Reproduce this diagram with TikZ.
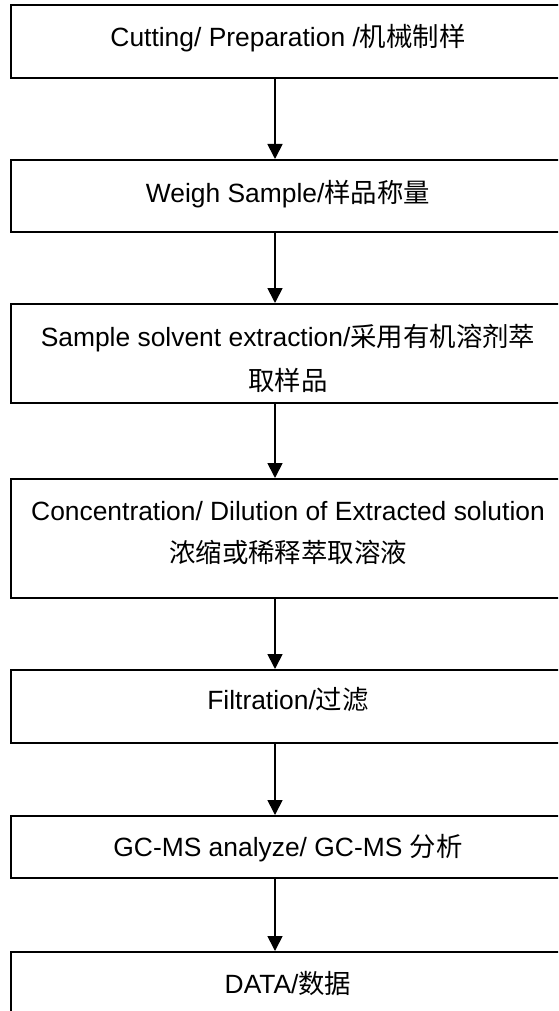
\documentclass[tikz,border=0pt]{standalone}
\usepackage{fontspec}
\setmainfont{Liberation Sans}
\newfontfamily\cjk{Noto Sans CJK SC}
\usetikzlibrary{arrows.meta}
\begin{document}
\begin{tikzpicture}[x=1pt,y=-1pt,
  box/.style={draw=black, line width=2pt, minimum width=554pt, inner sep=0pt},
  txt/.style={anchor=base, inner sep=0pt, font=\fontsize{26.4}{30}\selectfont},
  arr/.style={line width=1.7pt, -{Triangle[length=15pt,width=15pt]}}]
\clip (0,0) rectangle (558,1011);
\fill[white] (0,0) rectangle (558,1011);
% boxes
\node[box, minimum height=73pt] (b1) at (288,41.5) {};
\node[box, minimum height=72pt] (b2) at (288,196) {};
\node[box, minimum height=99pt] (b3) at (288,353.5) {};
\node[box, minimum height=119pt] (b4) at (288,538.5) {};
\node[box, minimum height=73pt] (b5) at (288,706.5) {};
\node[box, minimum height=62pt] (b6) at (288,847) {};
\node[box, minimum height=73pt] (b7) at (288,988.5) {};
% texts
\node[txt] (t1) at (288,47) {Cutting/ Preparation /{\cjk 机械制样}};
\node[txt] (t2) at (288,202) {Weigh Sample/{\cjk 样品称量}};
\node[txt] (t3a) at (288,346) {Sample solvent extraction/{\cjk 采用有机溶剂萃}};
\node[txt] (t3b) at (288,390) {{\cjk 取样品}};
\node[txt] (t4a) at (288,520) {Concentration/ Dilution of Extracted solution};
\node[txt] (t4b) at (288,562) {{\cjk 浓缩或稀释萃取溶液}};
\node[txt] (t5) at (288,709.5) {Filtration/{\cjk 过滤}};
\node[txt] (t6) at (288,856) {GC-MS analyze/ GC-MS {\cjk 分析}};
\node[txt] (t7) at (288,993) {DATA/{\cjk 数据}};
% arrows
\coordinate (ax) at (275,0);
\draw[arr] (b1.south -| ax) -- (b2.north -| ax);
\draw[arr] (b2.south -| ax) -- (b3.north -| ax);
\draw[arr] (b3.south -| ax) -- (b4.north -| ax);
\draw[arr] (b4.south -| ax) -- (b5.north -| ax);
\draw[arr] (b5.south -| ax) -- (b6.north -| ax);
\draw[arr] (b6.south -| ax) -- (b7.north -| ax);
\end{tikzpicture}
\end{document}
